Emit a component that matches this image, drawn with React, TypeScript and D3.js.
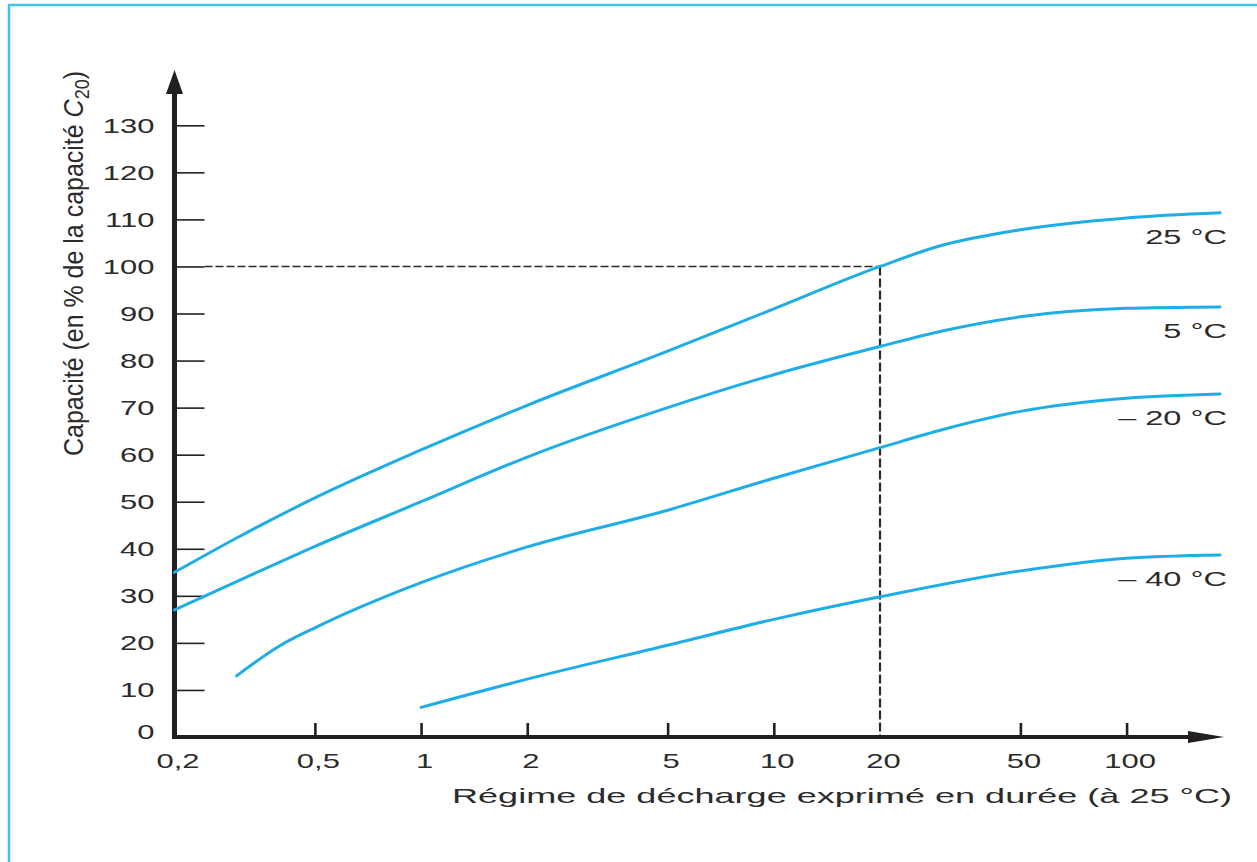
import React, { useEffect, useRef } from 'react';
import * as d3 from 'd3';

// tick values and labels
const yTicks = [0, 10, 20, 30, 40, 50, 60, 70, 80, 90, 100, 110, 120, 130];
const xTicks = [0.2, 0.5, 1, 2, 5, 10, 20, 50, 100];
const xTickLabels = ['0,2', '0,5', '1', '2', '5', '10', '20', '50', '100'];

// curves: duration (h) -> capacity (% of C20)
const dur25 = [0.2, 0.3, 0.5, 1, 2, 5, 10, 20, 30, 50, 100, 184];
const cap25 = [35, 42.3, 50.8, 61, 70.5, 82, 91, 100, 104.5, 107.8, 110.3, 111.4];
const dur5 = [0.2, 0.32, 0.5, 1, 2, 5, 10, 20, 30, 50, 100, 184];
const cap5 = [27, 34, 40.5, 50, 59.5, 70, 77, 83, 86.3, 89.3, 91.1, 91.4];
const durM20 = [0.3, 0.4, 0.5, 1, 2, 5, 10, 20, 30, 50, 100, 184];
const capM20 = [13, 19.5, 23.2, 32.8, 40.4, 48.2, 55, 61.5, 65.3, 69.2, 72, 72.9];
const durM40 = [1, 2, 5, 10, 20, 50, 100, 184];
const capM40 = [6.3, 12.3, 19.5, 25, 29.8, 35.3, 38, 38.7];

const seriesNames = ['25 °C', '5 °C', '– 20 °C', '– 40 °C'];

const App = () => {
    const ref = useRef<SVGSVGElement>(null);

    useEffect(() => {
        const width = 1257;
        const height = 862;
        const stretch = 1.55; // the picture is stretched sideways
        const ink = '#231f20';
        const textColor = '#2b2b2b';
        const blue = '#1fade8';
        const font = '"Liberation Sans", Arial, sans-serif';

        const svg = d3.select(ref.current);
        svg.selectAll('*').remove();
        svg.attr('width', width).attr('height', height);

        // blue frame
        svg.append('path')
            .attr('d', `M9,${height} V5 H${width}`)
            .attr('fill', 'none')
            .attr('stroke', '#45c1ee')
            .attr('stroke-width', 2.5);

        const xScale = d3.scaleLog()
            .domain([0.2, 184])
            .range([174.5, 1220]);
        const yScale = d3.scaleLinear()
            .domain([0, 130])
            .range([737, 125.3]);

        const x0 = xScale(0.2);
        const y0 = yScale(0);

        const series = [
            { name: seriesNames[0], pts: dur25.map((d, i) => [d, cap25[i]]) },
            { name: seriesNames[1], pts: dur5.map((d, i) => [d, cap5[i]]) },
            { name: seriesNames[2], pts: durM20.map((d, i) => [d, capM20[i]]) },
            { name: seriesNames[3], pts: durM40.map((d, i) => [d, capM40[i]]) }
        ];

        // dashed reference at 20 h / 100 %
        const dash = svg.append('g')
            .attr('stroke', '#2a2a2a')
            .attr('fill', 'none');
        dash.append('line')
            .attr('x1', x0 + 30).attr('x2', xScale(20))
            .attr('y1', yScale(100)).attr('y2', yScale(100))
            .attr('stroke-dasharray', '8 3')
            .attr('stroke-width', 1.6);
        dash.append('line')
            .attr('x1', xScale(20)).attr('x2', xScale(20))
            .attr('y1', yScale(100)).attr('y2', y0)
            .attr('stroke-dasharray', '9 3')
            .attr('stroke-width', 2.2);

        // y axis
        const yAxis = d3.axisLeft(yScale)
            .tickValues(yTicks)
            .tickSizeInner(-30)
            .tickSizeOuter(0)
            .tickFormat(d3.format('d'));

        const gY = svg.append('g')
            .attr('transform', `translate(${x0}, 0)`)
            .call(yAxis);
        gY.select('.domain').remove();
        gY.selectAll('line').attr('stroke', ink).attr('stroke-width', 1.6);
        gY.selectAll('text')
            .attr('x', null)
            .attr('dy', null)
            .attr('fill', textColor)
            .attr('font-size', 20)
            .attr('font-family', font)
            .attr('text-anchor', 'end')
            .attr('transform', d => `translate(-20, ${d === 0 ? 1 : 7}) scale(${stretch}, 1)`);

        // x axis
        const xAxis = d3.axisBottom(xScale)
            .tickValues(xTicks)
            .tickSizeInner(-14)
            .tickSizeOuter(0)
            .tickFormat((d, i) => xTickLabels[i]);

        const gX = svg.append('g')
            .attr('transform', `translate(0, ${y0})`)
            .call(xAxis);
        gX.select('.domain').remove();
        gX.selectAll('.tick')
            .filter(d => d === 0.2 || d === 20)
            .select('line').remove();
        gX.selectAll('line').attr('stroke', ink).attr('stroke-width', 2.6);
        gX.selectAll('text')
            .attr('y', null)
            .attr('dy', null)
            .attr('fill', textColor)
            .attr('font-size', 20)
            .attr('font-family', font)
            .attr('text-anchor', 'middle')
            .attr('transform', `translate(3, 31) scale(${stretch}, 1)`);

        // axis lines with arrows
        svg.append('line')
            .attr('x1', x0).attr('x2', x0)
            .attr('y1', y0 + 2).attr('y2', 90)
            .attr('stroke', ink).attr('stroke-width', 5);
        svg.append('path')
            .attr('d', `M${x0},70 L${x0 + 8.5},94 L${x0 - 8.5},94 Z`)
            .attr('fill', ink);
        svg.append('line')
            .attr('x1', x0 - 2.5).attr('x2', 1200)
            .attr('y1', y0).attr('y2', y0)
            .attr('stroke', ink).attr('stroke-width', 4);
        svg.append('path')
            .attr('d', `M1224,${y0} L1188,${y0 - 6} L1188,${y0 + 6} Z`)
            .attr('fill', ink);

        // curves
        const lineGenerator = d3.line<number[]>()
            .x(d => xScale(d[0]))
            .y(d => yScale(d[1]))
            .curve(d3.curveMonotoneX);

        svg.append('g').selectAll('path')
            .data(series)
            .enter()
            .append('path')
            .attr('d', d => lineGenerator(d.pts))
            .attr('fill', 'none')
            .attr('stroke', blue)
            .attr('stroke-width', 3)
            .attr('stroke-linecap', 'round');

        svg.append('g').selectAll('text')
            .data(series)
            .enter()
            .append('text')
            .attr('text-anchor', 'end')
            .attr('fill', textColor)
            .attr('font-size', 21)
            .attr('font-family', font)
            .attr('transform', d => {
                const last = d.pts[d.pts.length - 1];
                return `translate(${xScale(last[0]) + 7}, ${yScale(last[1]) + 31}) scale(${stretch}, 1)`;
            })
            .text(d => d.name);

        // axis titles
        svg.append('text')
            .attr('fill', textColor)
            .attr('font-size', 20)
            .attr('font-family', font)
            .attr('textLength', 780 / stretch)
            .attr('lengthAdjust', 'spacingAndGlyphs')
            .attr('transform', `translate(452, 803) scale(${stretch}, 1)`)
            .text('Régime de décharge exprimé en durée (à 25 °C)');

        const yTitle = svg.append('text')
            .attr('fill', textColor)
            .attr('font-size', 18)
            .attr('font-family', font)
            .attr('textLength', 385)
            .attr('lengthAdjust', 'spacingAndGlyphs')
            .attr('transform', `translate(83, 456) scale(${stretch}, 1) rotate(-90)`);
        yTitle.append('tspan').text('Capacité (en % de la capacité ');
        yTitle.append('tspan').attr('font-style', 'italic').text('C');
        yTitle.append('tspan').attr('font-size', 13).attr('dy', 4).text('20');
        yTitle.append('tspan').attr('dy', -4).text(')');
    }, []);

    return (
        <svg ref={ref} style={{ position: 'absolute', left: 0, top: 0, display: 'block', background: '#fff' }}></svg>
    );
};

export default App;
